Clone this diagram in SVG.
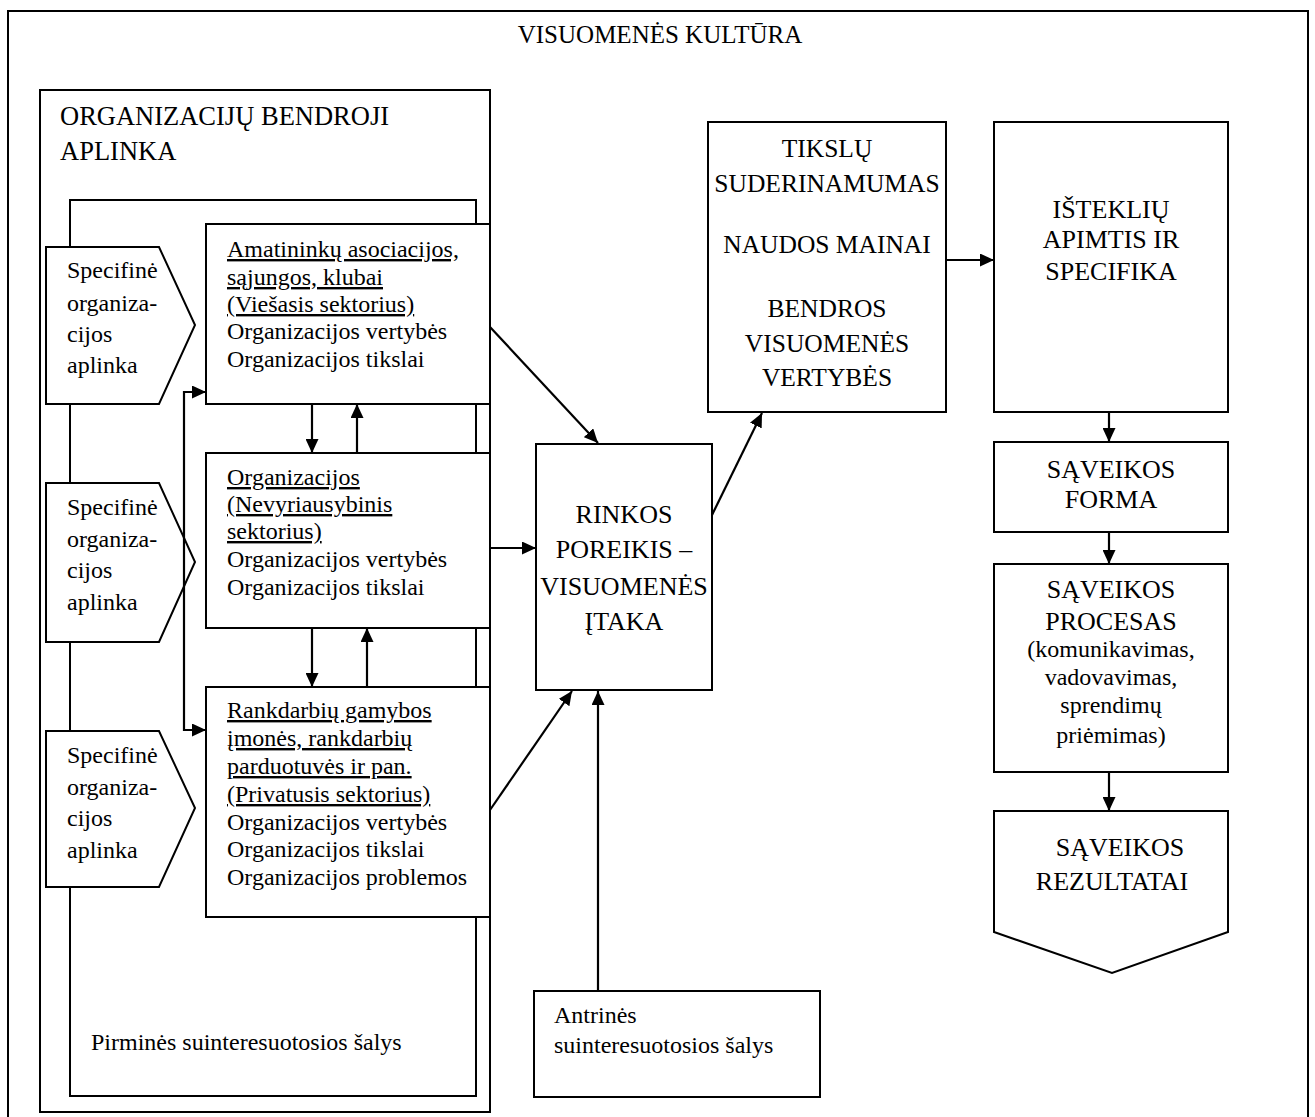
<svg xmlns="http://www.w3.org/2000/svg" width="1315" height="1117" viewBox="0 0 1315 1117" font-family="'Liberation Serif', 'Times New Roman', 'DejaVu Serif', serif">
<defs>
<marker id="ah" markerUnits="userSpaceOnUse" markerWidth="15" markerHeight="13" refX="14" refY="6.5" orient="auto-start-reverse">
<path d="M0,0 L14,6.5 L0,13 z" fill="#000"/>
</marker>
<style>
.b{fill:#fff;stroke:#000;stroke-width:2}
text{font-family:'Liberation Serif','Times New Roman','DejaVu Serif',serif;fill:#000}
.t{font-size:24px}
.c{font-size:26px;text-anchor:middle}
.u{text-decoration:underline}
.k{fill:none;stroke:#000;stroke-width:2.2;marker-end:url(#ah)}
</style>
</defs>
<rect width="1315" height="1117" fill="#fff"/>
<g id="visuomenes-kultura">
<rect class="b" x="8" y="11" width="1300" height="1112"/>
<text class="c" x="660" y="43" style="font-size:25px">VISUOMENĖS KULTŪRA</text>
</g>
<g id="bendroji-aplinka">
<rect class="b" x="40" y="90" width="450" height="1022"/>
<text class="t" x="60" y="125" style="font-size:26.5px">ORGANIZACIJŲ BENDROJI</text>
<text class="t" x="60" y="160" style="font-size:26.5px">APLINKA</text>
</g>
<g id="pirmines">
<rect class="b" x="70" y="200" width="406" height="896"/>
<text class="t" x="91" y="1050">Pirminės suinteresuotosios šalys</text>
</g>
<g id="specifine-1">
<polygon class="b" points="46,247 159,247 195,325 159,404 46,404"/>
<text class="t" x="67" y="278">Specifinė</text>
<text class="t" x="67" y="311">organiza-</text>
<text class="t" x="67" y="342">cijos</text>
<text class="t" x="67" y="373">aplinka</text>
</g>
<g id="specifine-2">
<polygon class="b" points="46,483 159,483 195,562 159,642 46,642"/>
<text class="t" x="67" y="515">Specifinė</text>
<text class="t" x="67" y="547">organiza-</text>
<text class="t" x="67" y="578">cijos</text>
<text class="t" x="67" y="610">aplinka</text>
</g>
<g id="specifine-3">
<polygon class="b" points="46,731 159,731 195,808 159,887 46,887"/>
<text class="t" x="67" y="763">Specifinė</text>
<text class="t" x="67" y="795">organiza-</text>
<text class="t" x="67" y="826">cijos</text>
<text class="t" x="67" y="858">aplinka</text>
</g>
<g id="viesasis">
<rect class="b" x="206" y="224" width="284" height="180"/>
<text class="t u" x="227" y="257">Amatininkų asociacijos,</text>
<text class="t u" x="227" y="285">sąjungos, klubai</text>
<text class="t u" x="227" y="312">(Viešasis sektorius)</text>
<text class="t" x="227" y="339">Organizacijos vertybės</text>
<text class="t" x="227" y="367">Organizacijos tikslai</text>
</g>
<g id="nevyriausybinis">
<rect class="b" x="206" y="453" width="284" height="175"/>
<text class="t u" x="227" y="485">Organizacijos</text>
<text class="t u" x="227" y="512">(Nevyriausybinis</text>
<text class="t u" x="227" y="539">sektorius)</text>
<text class="t" x="227" y="567">Organizacijos vertybės</text>
<text class="t" x="227" y="595">Organizacijos tikslai</text>
</g>
<g id="privatusis">
<rect class="b" x="206" y="687" width="284" height="230"/>
<text class="t u" x="227" y="718">Rankdarbių gamybos</text>
<text class="t u" x="227" y="746">įmonės, rankdarbių</text>
<text class="t u" x="227" y="774">parduotuvės ir pan.</text>
<text class="t u" x="227" y="802">(Privatusis sektorius)</text>
<text class="t" x="227" y="830">Organizacijos vertybės</text>
<text class="t" x="227" y="857">Organizacijos tikslai</text>
<text class="t" x="227" y="885">Organizacijos problemos</text>
</g>
<g id="rinkos">
<rect class="b" x="536" y="444" width="176" height="246"/>
<text class="c" x="624" y="523">RINKOS</text>
<text class="c" x="624" y="558">POREIKIS –</text>
<text class="c" x="624" y="595">VISUOMENĖS</text>
<text class="c" x="624" y="630">ĮTAKA</text>
</g>
<g id="antrines">
<rect class="b" x="534" y="991" width="286" height="106"/>
<text class="t" x="554" y="1023">Antrinės</text>
<text class="t" x="554" y="1053">suinteresuotosios šalys</text>
</g>
<g id="tikslu">
<rect class="b" x="708" y="122" width="238" height="290"/>
<text class="c" x="827" y="157" style="font-size:25.5px">TIKSLŲ</text>
<text class="c" x="827" y="192" style="font-size:25.5px">SUDERINAMUMAS</text>
<text class="c" x="827" y="253" style="font-size:25.5px">NAUDOS MAINAI</text>
<text class="c" x="827" y="317" style="font-size:25.5px">BENDROS</text>
<text class="c" x="827" y="352" style="font-size:25.5px">VISUOMENĖS</text>
<text class="c" x="827" y="386" style="font-size:25.5px">VERTYBĖS</text>
</g>
<g id="istekliu">
<rect class="b" x="994" y="122" width="234" height="290"/>
<text class="c" x="1111" y="218">IŠTEKLIŲ</text>
<text class="c" x="1111" y="248">APIMTIS IR</text>
<text class="c" x="1111" y="280">SPECIFIKA</text>
</g>
<g id="saveikos-forma">
<rect class="b" x="994" y="442" width="234" height="90"/>
<text class="c" x="1111" y="478">SĄVEIKOS</text>
<text class="c" x="1111" y="508">FORMA</text>
</g>
<g id="saveikos-procesas">
<rect class="b" x="994" y="564" width="234" height="208"/>
<text class="c" x="1111" y="598">SĄVEIKOS</text>
<text class="c" x="1111" y="630">PROCESAS</text>
<text class="c" x="1111" y="657" style="font-size:24px">(komunikavimas,</text>
<text class="c" x="1111" y="685" style="font-size:24px">vadovavimas,</text>
<text class="c" x="1111" y="713" style="font-size:24px">sprendimų</text>
<text class="c" x="1111" y="743" style="font-size:24px">priėmimas)</text>
</g>
<g id="saveikos-rezultatai">
<polygon class="b" points="994,811 1228,811 1228,932 1112,973 994,932"/>
<text class="c" x="1120" y="856">SĄVEIKOS</text>
<text class="c" x="1112" y="890">REZULTATAI</text>
</g>
<g id="connectors">
<line class="k" x1="312" y1="404" x2="312" y2="453"/>
<line class="k" x1="357" y1="453" x2="357" y2="404"/>
<line class="k" x1="312" y1="628" x2="312" y2="687"/>
<line class="k" x1="367" y1="687" x2="367" y2="628"/>
<path class="k" d="M206,392 H184 V730 H206" style="marker-start:url(#ah)"/>
<line class="k" x1="490" y1="327" x2="598" y2="443"/>
<line class="k" x1="490" y1="548" x2="536" y2="548"/>
<line class="k" x1="490" y1="810" x2="572" y2="691"/>
<line class="k" x1="598" y1="991" x2="598" y2="691"/>
<line class="k" x1="712" y1="515" x2="762" y2="413"/>
<line class="k" x1="946" y1="260" x2="994" y2="260"/>
<line class="k" x1="1109" y1="412" x2="1109" y2="442"/>
<line class="k" x1="1109" y1="532" x2="1109" y2="564"/>
<line class="k" x1="1109" y1="772" x2="1109" y2="811"/>
</g>
</svg>
